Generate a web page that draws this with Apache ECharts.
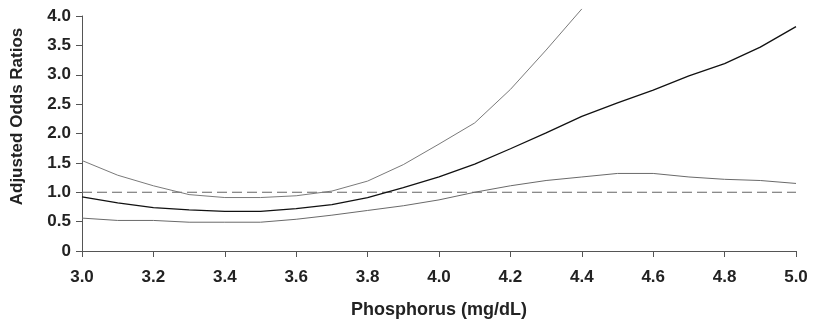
<!DOCTYPE html>
<html>
<head>
<meta charset="utf-8">
<script src="https://cdn.jsdelivr.net/npm/echarts@6/dist/echarts.min.js"></script>
<style>
  html, body { margin: 0; padding: 0; background: #fff; }
  #chart { width: 826px; height: 324px; }
</style>
</head>
<body>
<div id="chart"></div>
<script>
// phosphorus values (mg/dL)
const phosphorus = [3.0, 3.1, 3.2, 3.3, 3.4, 3.5, 3.6, 3.7, 3.8, 3.9, 4.0,
  4.1, 4.2, 4.3, 4.4, 4.5, 4.6, 4.7, 4.8, 4.9, 5.0];
// adjusted odds ratio and bounds
const oddsRatio = [0.92, 0.82, 0.74, 0.70, 0.675, 0.675, 0.72, 0.79, 0.91, 1.08, 1.26,
  1.48, 1.74, 2.01, 2.29, 2.52, 2.74, 2.98, 3.19, 3.47, 3.82];
const upperBound = [1.54, 1.29, 1.11, 0.96, 0.91, 0.91, 0.94, 1.02, 1.19, 1.47, 1.82,
  2.18, 2.75, 3.42, 4.12, null, null, null, null, null, null];
const lowerBound = [0.56, 0.52, 0.52, 0.49, 0.49, 0.49, 0.54, 0.61, 0.69, 0.77, 0.87,
  1.00, 1.11, 1.20, 1.26, 1.32, 1.32, 1.26, 1.22, 1.20, 1.15];
const refX = [3.0, 5.0];
const refY = [1.0, 1.0];
const xTicks = [3.0, 3.2, 3.4, 3.6, 3.8, 4.0, 4.2, 4.4, 4.6, 4.8, 5.0];
const yTicks = [0, 0.5, 1.0, 1.5, 2.0, 2.5, 3.0, 3.5, 4.0];

const pairs = (xs, ys) => xs.map((x, i) => [x, ys[i]]);
const font = '"Liberation Sans", Arial, Helvetica, sans-serif';

const chart = echarts.init(document.getElementById("chart"));

const lineSeries = (data, color, width) => ({
  type: "line",
  data: data,
  showSymbol: false,
  symbol: "none",
  clip: false,
  connectNulls: false,
  lineStyle: { color: color, width: width },
  animation: false,
});

const option = {
  backgroundColor: "#fff",
  animation: false,
  grid: { left: 82, right: 30, top: 16, bottom: 73 },
  xAxis: {
    type: "value",
    min: xTicks[0],
    max: xTicks[xTicks.length - 1],
    interval: 0.2,
    name: "Phosphorus (mg/dL)",
    nameLocation: "middle",
    nameGap: 50,
    nameTextStyle: { fontFamily: font, fontWeight: "bold", fontSize: 18, color: "#222" },
    axisLine: { lineStyle: { color: "#555", width: 1 } },
    axisTick: { show: true, length: 6, lineStyle: { color: "#555" } },
    splitLine: { show: false },
    axisLabel: {
      margin: 18,
      fontFamily: font,
      fontWeight: "bold",
      fontSize: 17,
      color: "#222",
      formatter: (v) => v.toFixed(1),
    },
  },
  yAxis: {
    type: "value",
    min: yTicks[0],
    max: yTicks[yTicks.length - 1],
    interval: 0.5,
    name: "Adjusted Odds Ratios",
    nameLocation: "middle",
    nameGap: 56,
    nameTextStyle: {
      fontFamily: font, fontWeight: "bold", fontSize: 17, color: "#222",
      padding: [0, 0, 0, 34],
    },
    axisLine: { show: true, lineStyle: { color: "#555", width: 1 } },
    axisTick: { show: true, length: 6, lineStyle: { color: "#555" } },
    splitLine: { show: false },
    axisLabel: {
      margin: 11,
      fontFamily: font,
      fontWeight: "bold",
      fontSize: 17,
      color: "#222",
      formatter: (v) => (v === 0 ? "0" : v.toFixed(1)),
    },
  },
  series: [
    {
      type: "line",
      data: pairs(refX, refY),
      symbol: "none",
      lineStyle: { color: "#666", width: 1.2, type: [10, 5] },
      animation: false,
    },
    lineSeries(pairs(phosphorus, upperBound), "#7a7a7a", 1),
    lineSeries(pairs(phosphorus, lowerBound), "#6a6a6a", 1),
    lineSeries(pairs(phosphorus, oddsRatio), "#111", 1.3),
  ],
};

chart.setOption(option);
</script>
</body>
</html>
